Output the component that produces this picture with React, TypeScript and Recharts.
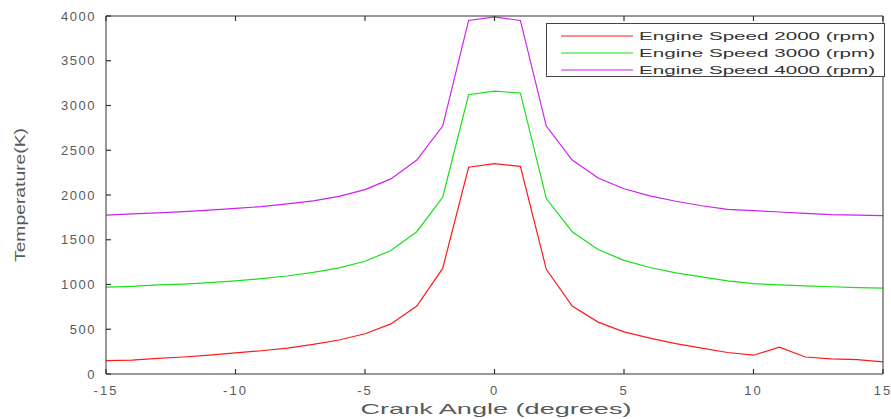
import React from "react";
import { LineChart, Line, XAxis, YAxis } from "recharts";

// crank angle in degrees
const angles = [
  -15, -14, -13, -12, -11, -10, -9, -8, -7, -6, -5, -4, -3, -2, -1, 0, 1, 2, 3, 4, 5, 6, 7, 8, 9, 10, 11, 12, 13, 14, 15,
];

// temperature (K) for each engine speed
const temp2000 = [
  150, 155, 175, 190, 210, 235, 260, 290, 330, 380, 450, 560, 760, 1180, 2310, 2350, 2320, 1170, 760, 580, 470, 400,
  340, 290, 240, 210, 300, 190, 170, 160, 135,
];
const temp3000 = [
  970, 980, 995, 1005, 1020, 1040, 1065, 1095, 1135, 1185, 1260, 1380, 1590, 1975, 3120, 3160, 3140, 1960, 1590,
  1390, 1270, 1190, 1130, 1085, 1040, 1010, 995, 985, 975, 965, 960,
];
const temp4000 = [
  1775, 1790, 1800, 1815, 1830, 1850, 1870, 1900, 1935, 1985, 2060, 2180, 2390, 2770, 3950, 3990, 3950, 2770, 2390,
  2190, 2070, 1990, 1930, 1880, 1840, 1825, 1810, 1795, 1780, 1775, 1770,
];

const seriesNames = ["Engine Speed 2000 (rpm)", "Engine Speed 3000 (rpm)", "Engine Speed 4000 (rpm)"];
const seriesKeys = ["s2000", "s3000", "s4000"];
const seriesColors = ["#ff1a1a", "#19e019", "#cc22ee"];

const xTicks = [-15, -10, -5, 0, 5, 10, 15];
const yTicks = [0, 500, 1000, 1500, 2000, 2500, 3000, 3500, 4000];

const data = angles.map((a, i) => ({
  angle: a,
  s2000: temp2000[i],
  s3000: temp3000[i],
  s4000: temp4000[i],
}));

const FONT = "'Liberation Sans', Arial, sans-serif";
const AXIS_COLOR = "#333";
const TEXT_COLOR = "#5a5a5a";

// ticks point inwards like the original figure
const BottomTick = (props: any) => {
  const { x, y, payload } = props;
  return (
    <g>
      <line x1={x} y1={y} x2={x} y2={y - 5} stroke={AXIS_COLOR} strokeWidth={1.2} />
      <text x={x} y={y + 21} textAnchor="middle" fontSize={13} fill={TEXT_COLOR} fontFamily={FONT} letterSpacing={2}>
        {payload.value}
      </text>
    </g>
  );
};

const TopTick = (props: any) => {
  const { x, y } = props;
  return <line x1={x} y1={y} x2={x} y2={y + 5} stroke={AXIS_COLOR} strokeWidth={1.2} />;
};

const LeftTick = (props: any) => {
  const { x, y, payload } = props;
  return (
    <g>
      <line x1={x} y1={y} x2={x + 5} y2={y} stroke={AXIS_COLOR} strokeWidth={1.2} />
      <text x={x - 10} y={y + 4.5} textAnchor="end" fontSize={13} fill={TEXT_COLOR} fontFamily={FONT} letterSpacing={1.5}>
        {payload.value}
      </text>
    </g>
  );
};

const RightTick = (props: any) => {
  const { x, y } = props;
  return <line x1={x} y1={y} x2={x - 5} y2={y} stroke={AXIS_COLOR} strokeWidth={1.2} />;
};

const LegendBox = () => (
  <svg width={339} height={54} style={{ position: "absolute", left: 546, top: 23 }}>
    <rect x={0.5} y={0.5} width={338} height={53} fill="#fff" stroke="#444" />
    {seriesNames.map((name, i) => (
      <g key={name}>
        <line x1={15} x2={87} y1={13 + i * 17} y2={13 + i * 17} stroke={seriesColors[i]} strokeWidth={1.2} />
        <text
          x={93}
          y={17 + i * 17}
          fontSize={11}
          fill="#333"
          fontFamily={FONT}
          textLength={236}
          lengthAdjust="spacingAndGlyphs"
        >
          {name}
        </text>
      </g>
    ))}
  </svg>
);

const App = () => {
  return (
    <div style={{ position: "absolute", left: 0, top: 0, width: 891, height: 419, background: "#fff" }}>
      <LineChart width={891} height={419} data={data} margin={{ top: 15, right: 7, bottom: 0, left: 0 }}>
        <XAxis
          dataKey="angle"
          type="number"
          domain={[-15, 15]}
          ticks={xTicks}
          height={45}
          tickSize={0}
          tickMargin={0}
          tickLine={false}
          tick={<BottomTick />}
          stroke={AXIS_COLOR}
          allowDataOverflow
        />
        <XAxis
          xAxisId="top"
          dataKey="angle"
          orientation="top"
          type="number"
          domain={[-15, 15]}
          ticks={xTicks}
          height={1}
          tickSize={0}
          tickMargin={0}
          tickLine={false}
          tick={<TopTick />}
          stroke={AXIS_COLOR}
        />
        <YAxis
          type="number"
          domain={[0, 4000]}
          ticks={yTicks}
          width={106}
          tickSize={0}
          tickMargin={0}
          tickLine={false}
          tick={<LeftTick />}
          stroke={AXIS_COLOR}
          allowDataOverflow
        />
        <YAxis
          yAxisId="right"
          orientation="right"
          type="number"
          domain={[0, 4000]}
          ticks={yTicks}
          width={1}
          tickSize={0}
          tickMargin={0}
          tickLine={false}
          tick={<RightTick />}
          stroke={AXIS_COLOR}
        />
        {seriesKeys.map((k, i) => (
          <Line
            key={k}
            dataKey={k}
            name={seriesNames[i]}
            stroke={seriesColors[i]}
            strokeWidth={1.2}
            dot={false}
            type="linear"
            isAnimationActive={false}
          />
        ))}
        <text
          x={496}
          y={414}
          textAnchor="middle"
          fontSize={15}
          fill={TEXT_COLOR}
          fontFamily={FONT}
          textLength={271}
          lengthAdjust="spacingAndGlyphs"
        >
          Crank Angle (degrees)
        </text>
        <text
          x={0}
          y={0}
          transform="translate(25 195) rotate(-90)"
          textAnchor="middle"
          fontSize={15}
          fill={TEXT_COLOR}
          fontFamily={FONT}
          textLength={134}
          lengthAdjust="spacingAndGlyphs"
        >
          Temperature(K)
        </text>
      </LineChart>
      <LegendBox />
    </div>
  );
};

export default App;
